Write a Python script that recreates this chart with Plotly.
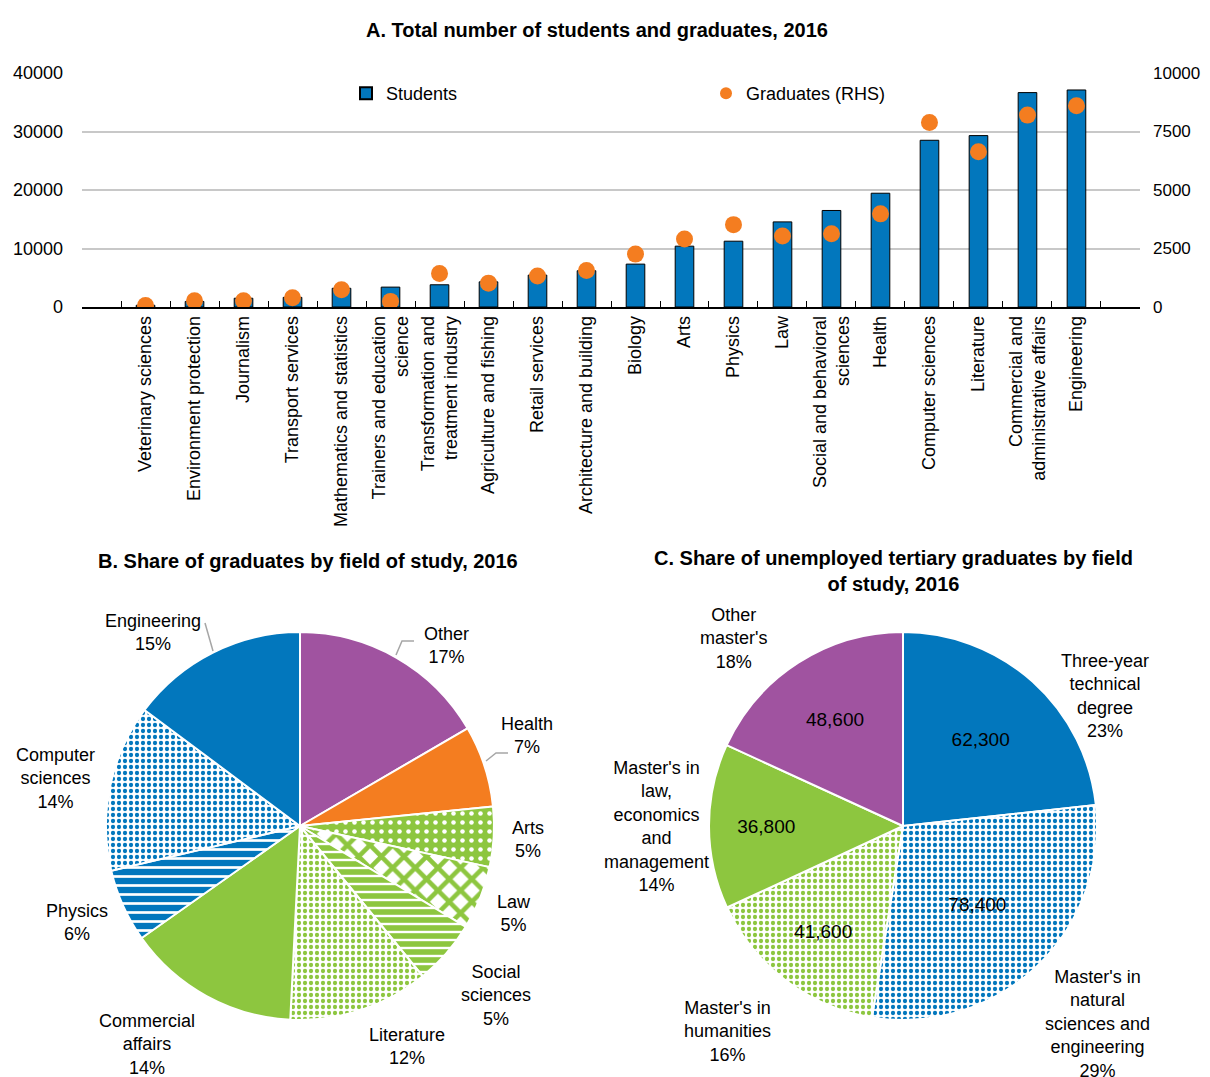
import plotly.graph_objects as go

W, H = 1210, 1077
OFF = 8  # page body margin offset in the browser
FONT = "Liberation Sans Narrow, Arial Narrow, Liberation Sans, Arial"
BLUE = "#0277BD"
ORANGE = "#F47D20"
GREEN = "#8DC63F"
PURPLE = "#A053A0"

# ---------------- Panel A data ----------------
fields = [
    "Veterinary sciences", "Environment protection", "Journalism", "Transport services",
    "Mathematics and statistics", "Trainers and education<br>science",
    "Transformation and<br>treatment industry", "Agriculture and fishing", "Retail services",
    "Architecture and building", "Biology", "Arts", "Physics", "Law",
    "Social and behavioral<br>sciences", "Health", "Computer sciences", "Literature",
    "Commercial and<br>administrative affairs", "Engineering",
]
students = [300, 950, 1500, 1650, 3200, 3400, 3800, 4300, 5450, 6200,
            7330, 10400, 11250, 14550, 16500, 19450, 28500, 29300, 36650, 37100]
graduates = [60, 270, 270, 400, 740, 240, 1430, 1020, 1320, 1560,
             2260, 2910, 3520, 3030, 3130, 3980, 7880, 6630, 8200, 8600]
left_ticks = [0, 10000, 20000, 30000, 40000]
right_ticks = [0, 2500, 5000, 7500, 10000]

# ---------------- Panel B data ----------------
b_labels = ["Other", "Health", "Arts", "Law", "Social<br>sciences", "Literature",
            "Commercial<br>affairs", "Physics", "Computer<br>sciences", "Engineering"]
b_values = [16.6, 6.8, 5.0, 5.3, 5.4, 11.7, 14.4, 6.1, 13.9, 14.8]

# ---------------- Panel C data ----------------
c_labels = ["Three-year<br>technical<br>degree", "Master's in<br>natural<br>sciences and<br>engineering",
            "Master's in<br>humanities", "Master's in<br>law,<br>economics<br>and<br>management",
            "Other<br>master's"]
c_values = [62300, 78400, 41600, 36800, 48600]


def X(px):
    return (px - OFF) / W


def Y(py):
    return 1 - (py - OFF) / H


fig = go.Figure()

fig.add_trace(go.Bar(
    x=fields, y=students, name="Students",
    marker=dict(color=BLUE, line=dict(color="black", width=1)),
    xaxis="x", yaxis="y", hoverinfo="none",
))
fig.add_trace(go.Scatter(
    x=fields, y=graduates, name="Graduates (RHS)", mode="markers",
    marker=dict(color=ORANGE, size=17, line=dict(width=0)),
    xaxis="x", yaxis="y2", hoverinfo="none",
))

# Panel B pie
b_colors = [PURPLE, ORANGE, GREEN, "white", GREEN, "white", GREEN, BLUE, "white", BLUE]
b_patterns = dict(
    shape=["", "", ".", "x", "-", ".", "", "-", ".", ""],
    fgcolor=[PURPLE, ORANGE, "white", GREEN, "white", GREEN, GREEN, "white", BLUE, BLUE],
    bgcolor=[PURPLE, ORANGE, GREEN, "white", GREEN, "white", GREEN, BLUE, "white", BLUE],
    size=[8, 8, 9, 16, 8, 6, 8, 9, 6, 8],
    solidity=[0.3, 0.3, 0.2, 0.5, 0.3, 0.4, 0.3, 0.3, 0.4, 0.3],
    fillmode="replace",
)
fig.add_trace(go.Pie(
    labels=b_labels, values=b_values, sort=False, direction="clockwise", rotation=0,
    marker=dict(colors=b_colors, line=dict(color="white", width=2), pattern=b_patterns),
    textinfo="none", hoverinfo="none", showlegend=False,
    domain=dict(x=[X(106), X(494)], y=[Y(1020), Y(632)]),
))

# Panel C pie
c_colors = [BLUE, "white", "white", GREEN, PURPLE]
c_patterns = dict(
    shape=["", ".", ".", "", ""],
    fgcolor=[BLUE, BLUE, GREEN, GREEN, PURPLE],
    bgcolor=[BLUE, "white", "white", GREEN, PURPLE],
    size=[8, 6, 6, 8, 8],
    solidity=[0.3, 0.4, 0.4, 0.3, 0.3],
    fillmode="replace",
)
fig.add_trace(go.Pie(
    labels=c_labels, values=c_values, sort=False, direction="clockwise", rotation=0,
    marker=dict(colors=c_colors, line=dict(color="white", width=2), pattern=c_patterns),
    textinfo="value", texttemplate="%{value:,}", textposition="inside",
    insidetextorientation="horizontal",
    textfont=dict(family=FONT, size=19, color="black"),
    hoverinfo="none", showlegend=False,
    domain=dict(x=[X(709), X(1097)], y=[Y(1020), Y(632)]),
))

annotations = []
title_font = dict(size=20, family=FONT, color="black")
annotations.append(dict(text="<b>A. Total number of students and graduates, 2016</b>",
                        x=X(597), y=Y(30), xref="paper", yref="paper", showarrow=False,
                        font=title_font, xanchor="center", yanchor="middle"))
annotations.append(dict(text="<b>B. Share of graduates by field of study, 2016</b>",
                        x=X(308), y=Y(561), xref="paper", yref="paper", showarrow=False,
                        font=title_font, xanchor="center", yanchor="middle"))
annotations.append(dict(text="<b>C. Share of unemployed tertiary graduates by field<br>of study, 2016</b>",
                        x=X(893), y=Y(571), xref="paper", yref="paper", showarrow=False,
                        font=title_font, xanchor="center", yanchor="middle"))

# Panel B outside labels (centre positions in pixels)
b_pos = [(446, 645), (527, 735), (528, 839), (514, 913), (496, 995), (407, 1046),
         (147, 1044), (77, 922), (55, 778), (153, 632)]
b_total = sum(b_values)
for lab, v, (px, py) in zip(b_labels, b_values, b_pos):
    annotations.append(dict(text=f"{lab}<br>{round(v / b_total * 100)}%", x=X(px), y=Y(py),
                            xref="paper", yref="paper", showarrow=False, align="center",
                            font=dict(size=18, family=FONT, color="black"),
                            xanchor="center", yanchor="middle"))

# Panel C outside labels
c_pos = [(1105, 696), (1097, 1024), (727, 1031), (656, 826), (733, 638)]
c_total = sum(c_values)
for lab, v, (px, py) in zip(c_labels, c_values, c_pos):
    annotations.append(dict(text=f"{lab}<br>{round(v / c_total * 100)}%", x=X(px), y=Y(py),
                            xref="paper", yref="paper", showarrow=False, align="center",
                            font=dict(size=18, family=FONT, color="black"),
                            xanchor="center", yanchor="middle"))

# Leader lines for panel B
leaders = [
    [(205, 623), (213, 651)],
    [(414, 641), (402, 641), (396, 655)],
    [(508, 753), (496, 753), (486, 761)],
]
shapes = []
for pts in leaders:
    path = "M " + " L ".join(f"{X(a)},{Y(b)}" for a, b in pts)
    shapes.append(dict(type="path", path=path, xref="paper", yref="paper",
                       line=dict(color="#A6A6A6", width=1.5)))

fig.update_layout(
    width=W, height=H,
    margin=dict(l=0, r=0, t=0, b=0),
    paper_bgcolor="white", plot_bgcolor="white",
    font=dict(family=FONT, size=18, color="black"),
    bargap=0.62,
    showlegend=True,
    legend=dict(orientation="h", x=X(346), y=Y(75), xanchor="left", yanchor="top",
                entrywidth=315, entrywidthmode="pixels", bgcolor="rgba(0,0,0,0)",
                font=dict(size=18, family=FONT), itemsizing="constant",
                tracegroupgap=0, itemwidth=30),
    xaxis=dict(domain=[X(82), X(1140)], anchor="y", type="category",
               showline=True, linecolor="black", linewidth=1.5,
               ticks="inside", tickson="boundaries", ticklen=6, tickcolor="black",
               tickangle=-90, tickfont=dict(size=18, family=FONT),
               showgrid=False, automargin=False, fixedrange=True),
    yaxis=dict(domain=[Y(307), Y(73)], anchor="x", range=[0, 40000],
               tickvals=left_ticks, ticktext=[str(t) for t in left_ticks],
               showgrid=True, gridcolor="#C8C8C8", gridwidth=1.5, zeroline=False,
               showline=False, ticks="", ticklabelstandoff=18,
               tickfont=dict(size=18, family=FONT), automargin=False, fixedrange=True),
    yaxis2=dict(domain=[Y(307), Y(73)], anchor="x", overlaying="y", side="right",
                range=[0, 10000], tickvals=right_ticks, ticktext=[str(t) for t in right_ticks],
                showgrid=False, zeroline=False, showline=False, ticks="",
                ticklabelstandoff=12, tickfont=dict(size=17, family=FONT),
                automargin=False, fixedrange=True),
    annotations=annotations,
    shapes=shapes,
)

fig.write_html("out.html")
